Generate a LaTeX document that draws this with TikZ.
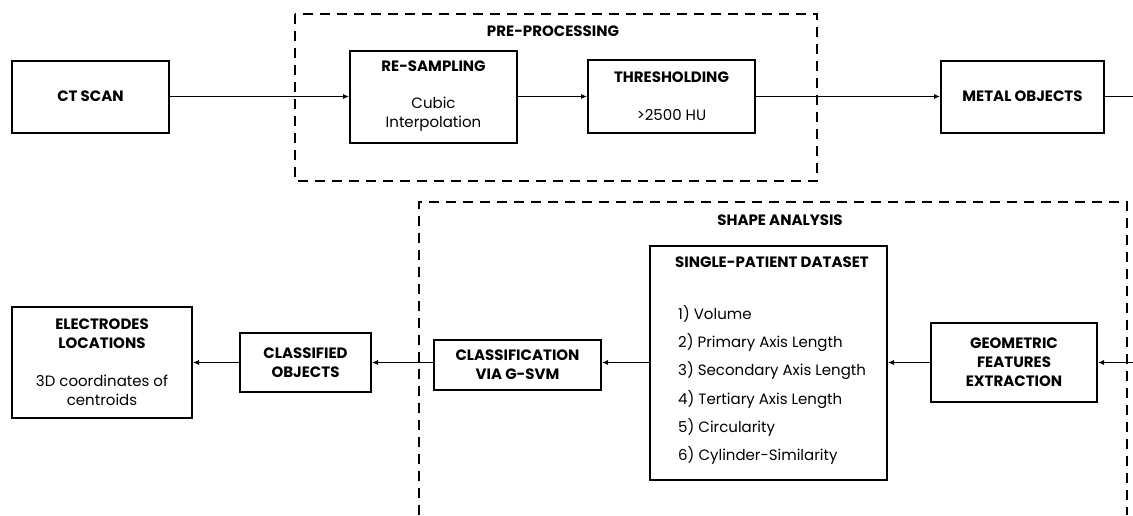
\documentclass[tikz,border=0pt]{standalone}
\usepackage{fontspec}
\setmainfont{Poppins}
\usetikzlibrary{arrows.meta}
\begin{document}
\begin{tikzpicture}[x=1pt,y=-1pt,
  box/.style={draw, line width=2pt, rectangle, inner sep=0pt, align=center,
    font=\fontsize{15}{19}\selectfont},
  frame/.style={draw, line width=2pt, dash pattern=on 10pt off 7pt},
  conn/.style={line width=0.9pt, -{Latex[length=6pt,width=5pt]}},
  lbl/.style={inner sep=0pt, font=\fontsize{15}{19}\selectfont\bfseries},
  txt/.style={inner sep=0pt, font=\fontsize{15}{28.3}\selectfont, align=left}]
\useasboundingbox (0,0) rectangle (1133,515);

% frames
\draw[frame] (295,14) rectangle (817,181);
\node[lbl] (pp) at (553,31) {PRE-PROCESSING};
\draw[frame] (419,515) -- (419,202) -- (1127,202) -- (1127,515);
\node[lbl] (sa) at (780,220) {SHAPE ANALYSIS};

% top row
\node[box, minimum width=157pt, minimum height=72pt] (ct) at (90.5,96.5) {\bfseries CT SCAN};
\node[box, minimum width=167pt, minimum height=92pt] (rs) at (433.5,96.5)
  {\textbf{RE-SAMPLING}\\[18pt]Cubic\\Interpolation};
\node[box, minimum width=167pt, minimum height=73pt] (th) at (671.5,96.5)
  {\textbf{THRESHOLDING}\\[19pt]>2500 HU};
\node[box, minimum width=163pt, minimum height=72pt] (mo) at (1022.5,96.5) {\bfseries METAL OBJECTS};
\coordinate (out) at (1133,96.5);

% bottom row
\node[box, minimum width=166pt, minimum height=79pt] (ge) at (1014,362.5)
  {\bfseries GEOMETRIC\\\bfseries FEATURES\\\bfseries EXTRACTION};
\coordinate (in) at (1133,362.5);
\node[box, minimum width=237pt, minimum height=234pt] (ds) at (768.5,362.5) {};
\node[lbl] (dst) at (772,262) {SINGLE-PATIENT DATASET};
\node[txt, anchor=west] (dsl) at (678,385)
  {1) Volume\\2) Primary Axis Length\\3) Secondary Axis Length\\4) Tertiary Axis Length\\5) Circularity\\6) Cylinder-Similarity};
\node[box, minimum width=167pt, minimum height=50pt] (cl) at (517.5,365)
  {\bfseries CLASSIFICATION\\\bfseries VIA G-SVM};
\node[box, minimum width=131pt, minimum height=59pt] (co) at (305.5,362.5)
  {\bfseries CLASSIFIED\\\bfseries OBJECTS};
\node[box, minimum width=180pt, minimum height=111pt] (el) at (102,362.5)
  {\textbf{ELECTRODES}\\\textbf{LOCATIONS}\\[19pt]3D coordinates of\\centroids};

% connectors
\draw[conn] (ct.east) -- (rs.west);
\draw[conn] (rs.east) -- (th.west);
\draw[conn] (th.east) -- (mo.west);
\draw[line width=0.9pt] (mo.east) -- (out);
\draw[conn] (in) -- (ge.east);
\draw[conn] (ge.west) -- (ds.east);
\draw[conn] (ds.west) -- (ds.west -| cl.east);
\draw[conn] (cl.west |- co.east) -- (co.east);
\draw[conn] (co.west) -- (el.east);
\end{tikzpicture}
\end{document}
